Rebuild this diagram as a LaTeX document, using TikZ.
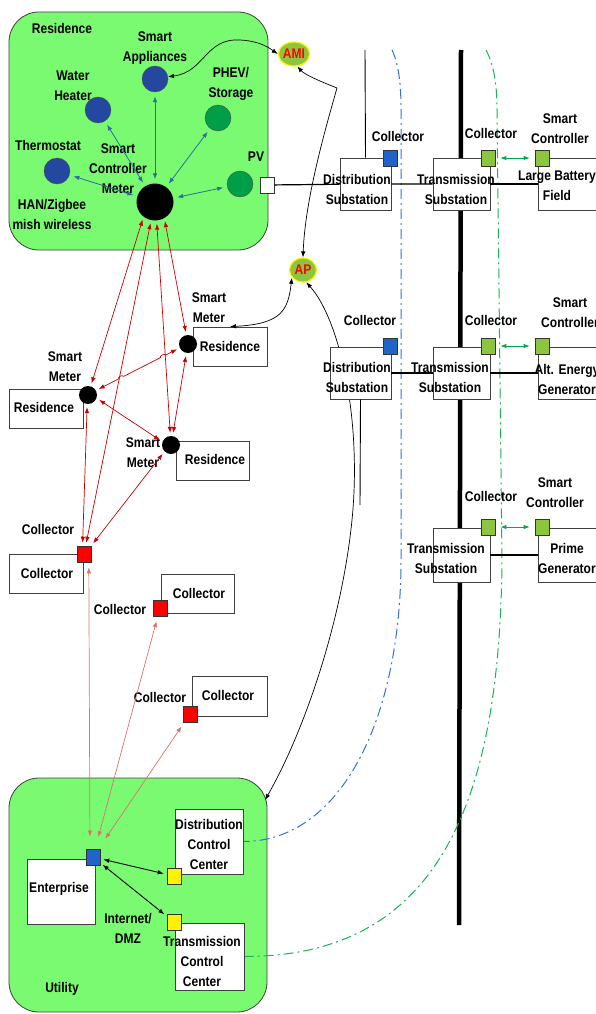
\documentclass[tikz,border=0pt]{standalone}
\usepackage{fontspec}
\setmainfont{Liberation Sans}[FakeStretch=0.86]
\usepackage{tikz}
\usetikzlibrary{calc,shapes.geometric,arrows.meta}
\pgfdeclarelayer{background}
\pgfsetlayers{background,main}
\definecolor{resgreen}{RGB}{122,250,112}
\definecolor{devblue}{RGB}{36,72,160}
\definecolor{devgreen}{RGB}{0,158,70}
\definecolor{hubgreen}{RGB}{140,198,62}
\definecolor{colblue}{RGB}{32,100,200}
\definecolor{colgreen}{RGB}{140,198,62}
\definecolor{meshred}{RGB}{200,0,0}
\definecolor{salmon}{RGB}{222,112,112}
\definecolor{steel}{RGB}{42,112,152}
\definecolor{linkgreen}{RGB}{0,170,80}
\definecolor{dblue}{RGB}{50,112,214}
\definecolor{dgreen}{RGB}{20,182,82}
\tikzset{
    lbl/.style={font=\bfseries\fontsize{14}{20}\selectfont, align=center, inner sep=0pt},
    zone/.style={draw=black!75, fill=resgreen, rounded corners=30pt, line width=0.8pt, inner sep=0pt},
    wbox/.style={draw=black!75, fill=white, line width=0.8pt, inner sep=0pt},
    dev/.style={circle, draw=black!70, minimum size=26pt, inner sep=0pt},
    sq/.style={draw=black!80, line width=0.6pt, minimum width=14pt, minimum height=16pt, inner sep=0pt},
    smeter/.style={circle, fill=black, minimum size=18pt, inner sep=0pt},
    hub/.style={ellipse, draw=yellow, line width=1.2pt, fill=hubgreen, text=red,
        font=\bfseries\fontsize{14}{14}\selectfont, minimum width=27pt, minimum height=24pt, inner sep=0pt},
    hanlink/.style={steel, <->, line width=0.8pt, shorten >=4pt, shorten <=4pt},
    meshlink/.style={meshred, <->, line width=0.7pt, shorten >=3pt, shorten <=3pt},
    entlink/.style={salmon, <->, line width=0.7pt, shorten <=5pt, shorten >=12pt},
    dmzlink/.style={black, <->, line width=0.9pt, shorten >=3pt, shorten <=3pt},
    ctrllink/.style={linkgreen, <->, line width=0.9pt, shorten >=5pt, shorten <=5pt},
    amilink/.style={black, line width=0.7pt},
    commline/.style={line width=1pt, dash pattern=on 10pt off 4pt on 2pt off 4pt},
    feeder/.style={line width=1.2pt},
    bigfeeder/.style={line width=2.5pt},
}

\begin{document}
\begin{tikzpicture}[x=1pt,y=-1pt,>={Latex[length=6pt,width=4.5pt]}]
\useasboundingbox (0,0) rectangle (596,1014);

% residence
\node[lbl] (reslbl) at (62,28) {Residence};
\node[dev, fill=devblue] (app) at (155,79) {};
\node[dev, fill=devblue] (wh) at (98,110) {};
\node[dev, fill=devblue] (therm) at (57,171) {};
\node[dev, fill=devgreen] (phev) at (218,118) {};
\node[dev, fill=devgreen] (pv) at (240,184) {};
\node[circle, fill=black, minimum size=37pt, inner sep=0pt] (meter) at (155,202) {};
\node[sq, fill=white] (pvsq) at (267,185) {};
\node[lbl] (applbl) at (155,48) {Smart\\Appliances};
\node[lbl] (whlbl) at (73,86) {Water\\Heater};
\node[lbl] (phevlbl) at (231,84) {PHEV/\\Storage};
\node[lbl] (thermlbl) at (48,145) {Thermostat};
\node[lbl] (meterlbl) at (118,169) {Smart\\Controller\\Meter};
\node[lbl] (pvlbl) at (256,157) {PV};
\node[lbl] (hanlbl) at (52,214) {HAN/Zigbee\\mish wireless};

\node[hub] (ami) at (294,54) {AMI};
\node[hub] (ap) at (303,270) {AP};
\coordinate (junc) at (337,88);

% substations
\node[wbox, minimum width=51pt, minimum height=52pt] (dsub1) at (365.5,184) {};
\node[lbl] (dsub1lbl) at (357,189) {Distribution\\Substation};
\node[sq, fill=colblue] (dcol1) at (390,158) {};
\node[lbl] (dcol1lbl) at (398,136) {Collector};
\node[wbox, minimum width=57pt, minimum height=52pt] (tsub1) at (461.5,184) {};
\node[lbl] (tsub1lbl) at (456,189) {Transmission\\Substation};
\node[sq, fill=colgreen] (tcol1) at (488,158) {};
\node[lbl] (tcol1lbl) at (491,133) {Collector};
\node[wbox, minimum width=102pt, minimum height=52pt] (gen1) at (589,184) {};
\node[lbl] (gen1lbl) at (557,186) {Large Battery\\Field};
\node[sq, fill=colgreen] (sc1) at (542,158) {};
\node[lbl] (sc1lbl) at (560,129) {Smart\\Controller};

\node[wbox, minimum width=61pt, minimum height=52pt] (dsub2) at (360.5,373) {};
\node[lbl] (dsub2lbl) at (357,377) {Distribution\\Substation};
\node[sq, fill=colblue] (dcol2) at (390,346) {};
\node[lbl] (dcol2lbl) at (370,320) {Collector};
\node[wbox, minimum width=57pt, minimum height=52pt] (tsub2) at (461.5,373) {};
\node[lbl] (tsub2lbl) at (450,377) {Transmission\\Substation};
\node[sq, fill=colgreen] (tcol2) at (488,346) {};
\node[lbl] (tcol2lbl) at (491,320) {Collector};
\node[wbox, minimum width=102pt, minimum height=52pt] (gen2) at (589,373) {};
\node[lbl] (gen2lbl) at (567,379) {Alt. Energy\\Generator};
\node[sq, fill=colgreen] (sc2) at (542,346) {};
\node[lbl] (sc2lbl) at (570,313) {Smart\\Controller};

\node[wbox, minimum width=57pt, minimum height=54pt] (tsub3) at (461.5,555) {};
\node[lbl] (tsub3lbl) at (446,558) {Transmission\\Substation};
\node[sq, fill=colgreen] (tcol3) at (488,527) {};
\node[lbl] (tcol3lbl) at (491,496) {Collector};
\node[wbox, minimum width=102pt, minimum height=54pt] (gen3) at (589,555) {};
\node[lbl] (gen3lbl) at (567,558) {Prime\\Generator};
\node[sq, fill=colgreen] (sc3) at (542,527) {};
\node[lbl] (sc3lbl) at (555,493) {Smart\\Controller};

% neighbourhood
\node[wbox, minimum width=74pt, minimum height=39pt] (resA) at (230,346.5) {};
\node[lbl] (resAlbl) at (230,346) {Residence};
\node[smeter] (mA) at (188,344) {};
\node[lbl] (mAlbl) at (209,308) {Smart\\Meter};
\node[wbox, minimum width=74pt, minimum height=39pt] (resB) at (46,408.5) {};
\node[lbl] (resBlbl) at (44,407) {Residence};
\node[smeter] (mB) at (88,395) {};
\node[lbl] (mBlbl) at (65,367) {Smart\\Meter};
\node[wbox, minimum width=73pt, minimum height=39pt] (resC) at (212.5,460.5) {};
\node[lbl] (resClbl) at (215,459) {Residence};
\node[smeter] (mC) at (171,445) {};
\node[lbl] (mClbl) at (143,453) {Smart\\Meter};

\node[wbox, minimum width=74pt, minimum height=39pt] (colAbox) at (46,573.5) {};
\node[lbl] (colAboxlbl) at (47,573) {Collector};
\node[sq, fill=red] (colA) at (84,554) {};
\node[lbl] (colAlbl) at (48,529) {Collector};
\node[wbox, minimum width=73pt, minimum height=39pt] (colBbox) at (197.5,593.5) {};
\node[lbl] (colBboxlbl) at (199,593) {Collector};
\node[sq, fill=red] (colB) at (160,608) {};
\node[lbl] (colBlbl) at (120,609) {Collector};
\node[wbox, minimum width=75pt, minimum height=40pt] (colCbox) at (229.5,696) {};
\node[lbl] (colCboxlbl) at (228,695) {Collector};
\node[sq, fill=red] (colC) at (190,714) {};
\node[lbl] (colClbl) at (160,697) {Collector};

% utility
\node[wbox, minimum width=68pt, minimum height=65pt] (ent) at (61,891.5) {};
\node[lbl] (entlbl) at (59,889) {Enterprise};
\node[sq, fill=colblue] (entsq) at (93,857) {};
\node[wbox, minimum width=68pt, minimum height=65pt] (dcc) at (209,841.5) {};
\node[lbl] (dcclbl) at (209,844) {Distribution\\Control\\Center};
\node[sq, fill=yellow] (ycD) at (174,876) {};
\node[wbox, minimum width=69pt, minimum height=67pt] (tcc) at (209.5,956.5) {};
\node[lbl] (tcclbl) at (202,961) {Transmission\\Control\\Center};
\node[sq, fill=yellow] (ycT) at (174,922) {};
\node[lbl] (dmzlbl) at (128,928) {Internet/\\DMZ};
\node[lbl] (utillbl) at (62,989) {Utility};

\begin{pgfonlayer}{background}
\node[zone, minimum width=259pt, minimum height=238pt] (home) at (138.5,131) {};
\node[zone, minimum width=258pt, minimum height=234pt] (util) at (138,895) {};
\coordinate (utilc) at (265,800);
\coordinate (dtop) at (365,50);
\coordinate (dend) at (360,505);
\coordinate (btop) at (461,50);
\coordinate (bend) at (459,925);
\draw[line width=4.5pt] (btop) -- (bend);
\draw[commline, dblue] (392,50) .. controls (399,65) and (401,85) .. (401,110) -- (401,560)
    .. controls (401,720) and (340,841.5) .. (dcc.east);
\draw[commline, dgreen] (486,50) .. controls (494,65) and (497,85) .. (497,110) -- (502,560)
    .. controls (500,800) and (440,956.5) .. (tcc.east);
\draw[amilink, <->] (ap.-75) .. controls (340,320) and (362,420) .. (352,520)
    .. controls (342,620) and (305,730) .. (utilc);
\end{pgfonlayer}

% power lines
\draw[line width=0.9pt] (dtop) -- (dsub1.north);
\draw[line width=0.9pt] (dsub2.south) -- (dend);
\draw[feeder] (pvsq) -- (dsub1) -- (tsub1);
\draw[bigfeeder] (tsub1) -- (gen1);
\draw[feeder] (dsub2) -- (tsub2);
\draw[bigfeeder] (tsub2) -- (gen2);
\draw[bigfeeder] (tsub3) -- (gen3);

% HAN
\draw[hanlink] (meter) -- (therm);
\draw[hanlink] (meter) -- (wh);
\draw[hanlink] (meter) -- (app);
\draw[hanlink] (meter) -- (phev);
\draw[hanlink] (meter) -- (pv);

% AMI and AP
\draw[amilink, <->] (app.10) .. controls (205,72) and (205,38) .. (240,40)
    .. controls (262,41) and (272,50) .. (ami.west);
\draw[amilink, ->] (junc) .. controls (322,82) and (305,75) .. (ami.-75);
\draw[amilink, ->] (junc) .. controls (325,130) and (305,200) .. (ap.north);
\draw[amilink, <->] (resA.north) .. controls (282,324) and (288,310) .. (ap.215);

% mesh
\draw[meshlink] (meter.232) -- (mB);
\draw[meshlink] (meter.258) -- (colA);
\draw[meshlink] (meter.275) -- (mC);
\draw[meshlink] (meter.300) -- (mA);
\draw[meshlink] (mB.30) -- ($(mB.30)!0.27!(mA.205)$) to[bend left=90] ($(mB.30)!0.33!(mA.205)$)
    -- ($(mB.30)!0.77!(mA.205)$) to[bend left=90] ($(mB.30)!0.83!(mA.205)$) -- (mA.205);
\draw[meshlink] (mB.-20) -- (mC.160);
\draw[meshlink] (mA.-100) -- (mC.80);
\draw[meshlink] (mB.-95) -- (colA.100);
\draw[meshlink] (mC.-135) -- (colA.north east);

% backhaul
\draw[entlink] (colA.-60) -- (entsq.110);
\draw[entlink] (colB) -- (entsq);
\draw[entlink] (colC) -- (entsq);
\draw[dmzlink] (entsq) -- (ycD);
\draw[dmzlink] (entsq) -- (ycT);
\draw[ctrllink] (tcol1) -- (sc1);
\draw[ctrllink] (tcol2) -- (sc2);
\draw[ctrllink] (tcol3) -- (sc3);
\end{tikzpicture}
\end{document}
